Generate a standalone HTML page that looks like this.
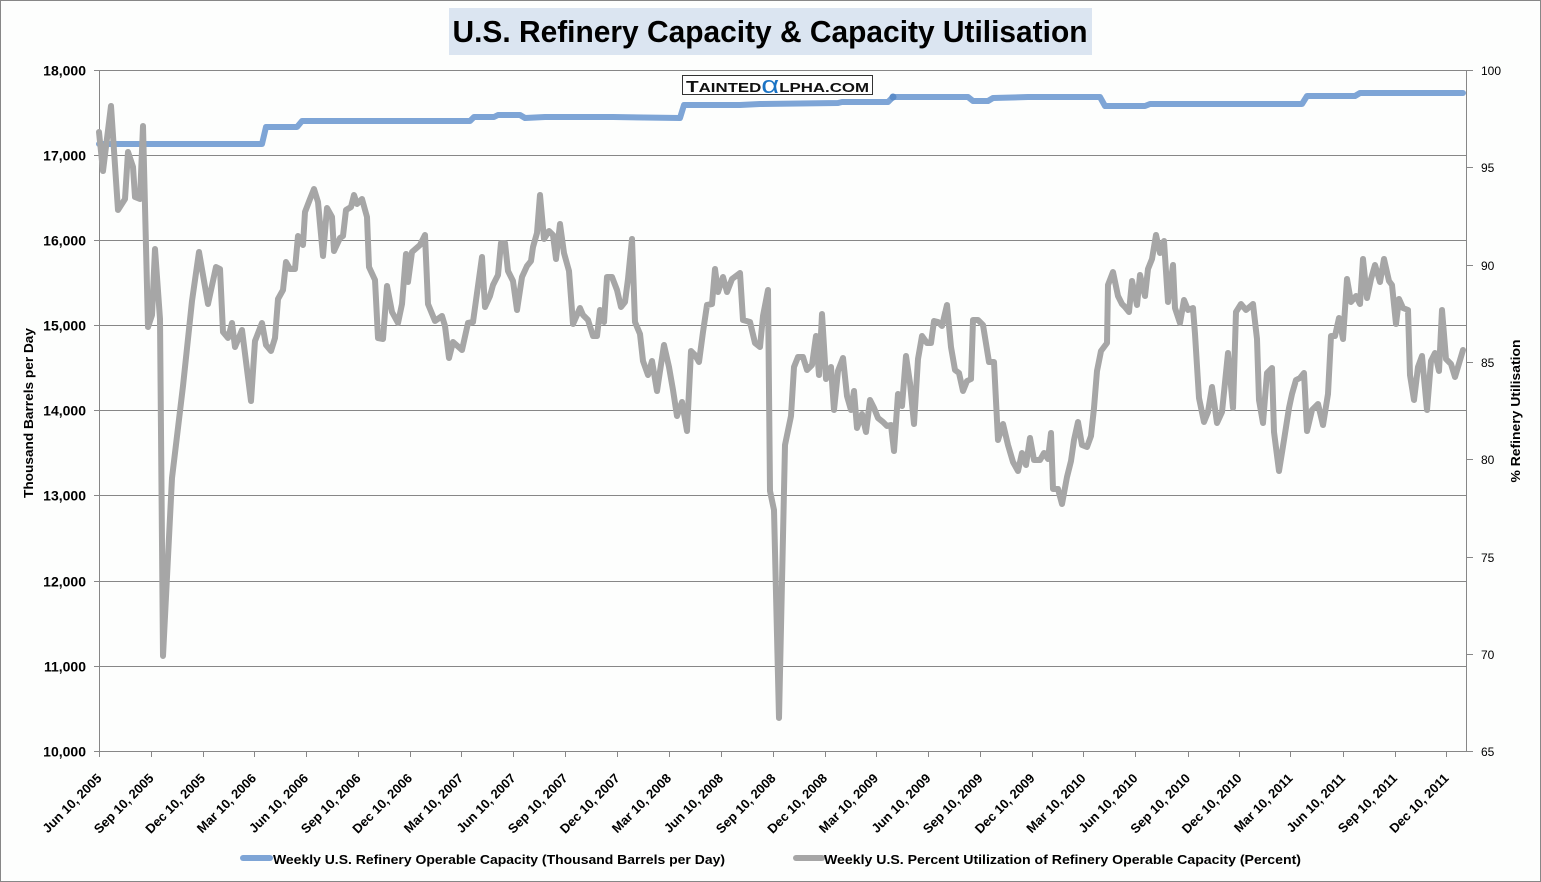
<!DOCTYPE html>
<html>
<head>
<meta charset="utf-8">
<style>
  html, body { margin:0; padding:0; background:#ffffff; }
  svg { display:block; }
  text { font-family: "Liberation Sans", Arial, sans-serif; }
</style>
</head>
<body>
<svg width="1541" height="882" viewBox="0 0 1541 882" xmlns="http://www.w3.org/2000/svg">
  <rect x="0" y="0" width="1541" height="882" fill="#fdfefd"/>
  <rect x="0.5" y="0.5" width="1540" height="881" fill="none" stroke="#878787" stroke-width="1"/>

  <!-- Title -->
  <rect x="449" y="8" width="643" height="47" fill="#dbe5f1"/>
  <text x="770" y="42" font-size="31" font-weight="bold" text-anchor="middle" fill="#000" textLength="635" lengthAdjust="spacingAndGlyphs">U.S. Refinery Capacity &amp; Capacity Utilisation</text>

  <!-- Gridlines -->
  <g stroke="#878787" stroke-width="1" fill="none">
    <line x1="94" y1="70.5" x2="1467" y2="70.5"/>
    <line x1="94" y1="155.5" x2="1467" y2="155.5"/>
    <line x1="94" y1="240.5" x2="1467" y2="240.5"/>
    <line x1="94" y1="325.5" x2="1467" y2="325.5"/>
    <line x1="94" y1="410.5" x2="1467" y2="410.5"/>
    <line x1="94" y1="495.5" x2="1467" y2="495.5"/>
    <line x1="94" y1="581.5" x2="1467" y2="581.5"/>
    <line x1="94" y1="666.5" x2="1467" y2="666.5"/>
    <line x1="94" y1="751.5" x2="1467" y2="751.5"/>
    <line x1="99.5" y1="70" x2="99.5" y2="752"/>
    <line x1="1466.5" y1="70" x2="1466.5" y2="752"/>
    <!-- right ticks -->
    <line x1="1466" y1="70.5" x2="1473" y2="70.5"/>
    <line x1="1466" y1="167.5" x2="1473" y2="167.5"/>
    <line x1="1466" y1="265.5" x2="1473" y2="265.5"/>
    <line x1="1466" y1="362.5" x2="1473" y2="362.5"/>
    <line x1="1466" y1="459.5" x2="1473" y2="459.5"/>
    <line x1="1466" y1="557.5" x2="1473" y2="557.5"/>
    <line x1="1466" y1="654.5" x2="1473" y2="654.5"/>
    <line x1="1466" y1="751.5" x2="1473" y2="751.5"/>
    <!-- bottom ticks -->
    <line x1="99.5" y1="751" x2="99.5" y2="757"/>
    <line x1="151.5" y1="751" x2="151.5" y2="757"/>
    <line x1="203.5" y1="751" x2="203.5" y2="757"/>
    <line x1="254.5" y1="751" x2="254.5" y2="757"/>
    <line x1="306.5" y1="751" x2="306.5" y2="757"/>
    <line x1="358.5" y1="751" x2="358.5" y2="757"/>
    <line x1="410.5" y1="751" x2="410.5" y2="757"/>
    <line x1="461.5" y1="751" x2="461.5" y2="757"/>
    <line x1="513.5" y1="751" x2="513.5" y2="757"/>
    <line x1="565.5" y1="751" x2="565.5" y2="757"/>
    <line x1="617.5" y1="751" x2="617.5" y2="757"/>
    <line x1="669.5" y1="751" x2="669.5" y2="757"/>
    <line x1="721.5" y1="751" x2="721.5" y2="757"/>
    <line x1="773.5" y1="751" x2="773.5" y2="757"/>
    <line x1="825.5" y1="751" x2="825.5" y2="757"/>
    <line x1="876.5" y1="751" x2="876.5" y2="757"/>
    <line x1="928.5" y1="751" x2="928.5" y2="757"/>
    <line x1="980.5" y1="751" x2="980.5" y2="757"/>
    <line x1="1032.5" y1="751" x2="1032.5" y2="757"/>
    <line x1="1083.5" y1="751" x2="1083.5" y2="757"/>
    <line x1="1135.5" y1="751" x2="1135.5" y2="757"/>
    <line x1="1188.5" y1="751" x2="1188.5" y2="757"/>
    <line x1="1239.5" y1="751" x2="1239.5" y2="757"/>
    <line x1="1290.5" y1="751" x2="1290.5" y2="757"/>
    <line x1="1343.5" y1="751" x2="1343.5" y2="757"/>
    <line x1="1395.5" y1="751" x2="1395.5" y2="757"/>
    <line x1="1446.5" y1="751" x2="1446.5" y2="757"/>
  </g>

  <!-- Left axis labels -->
  <g font-size="14" font-weight="bold" text-anchor="end" fill="#000">
    <text x="86" y="75.5">18,000</text>
    <text x="86" y="160.5">17,000</text>
    <text x="86" y="245.5">16,000</text>
    <text x="86" y="330.5">15,000</text>
    <text x="86" y="415.5">14,000</text>
    <text x="86" y="500.5">13,000</text>
    <text x="86" y="586.5">12,000</text>
    <text x="86" y="671.5">11,000</text>
    <text x="86" y="756.5">10,000</text>
  </g>

  <!-- Right axis labels -->
  <g font-size="12" fill="#000">
    <text x="1481" y="75">100</text>
    <text x="1481" y="172">95</text>
    <text x="1481" y="270">90</text>
    <text x="1481" y="367">85</text>
    <text x="1481" y="464">80</text>
    <text x="1481" y="562">75</text>
    <text x="1481" y="659">70</text>
    <text x="1481" y="756">65</text>
  </g>

  <!-- Axis titles -->
  <text transform="translate(33,413) rotate(-90)" font-size="13" font-weight="bold" text-anchor="middle" textLength="170" lengthAdjust="spacingAndGlyphs">Thousand Barrels per Day</text>
  <text transform="translate(1520,411) rotate(-90)" font-size="13" font-weight="bold" text-anchor="middle" textLength="143" lengthAdjust="spacingAndGlyphs">% Refinery Utilisation</text>

  <!-- X labels -->
  <g font-size="13" font-weight="bold" text-anchor="end" fill="#000">
    <text transform="translate(102.5,779) rotate(-45)">Jun 10, 2005</text>
    <text transform="translate(154.5,779) rotate(-45)">Sep 10, 2005</text>
    <text transform="translate(206,779) rotate(-45)">Dec 10, 2005</text>
    <text transform="translate(257,779) rotate(-45)">Mar 10, 2006</text>
    <text transform="translate(309,779) rotate(-45)">Jun 10, 2006</text>
    <text transform="translate(361.5,779) rotate(-45)">Sep 10, 2006</text>
    <text transform="translate(413,779) rotate(-45)">Dec 10, 2006</text>
    <text transform="translate(464,779) rotate(-45)">Mar 10, 2007</text>
    <text transform="translate(516.5,779) rotate(-45)">Jun 10, 2007</text>
    <text transform="translate(568.5,779) rotate(-45)">Sep 10, 2007</text>
    <text transform="translate(620.5,779) rotate(-45)">Dec 10, 2007</text>
    <text transform="translate(672,779) rotate(-45)">Mar 10, 2008</text>
    <text transform="translate(724,779) rotate(-45)">Jun 10, 2008</text>
    <text transform="translate(776.5,779) rotate(-45)">Sep 10, 2008</text>
    <text transform="translate(828,779) rotate(-45)">Dec 10, 2008</text>
    <text transform="translate(879,779) rotate(-45)">Mar 10, 2009</text>
    <text transform="translate(931.5,779) rotate(-45)">Jun 10, 2009</text>
    <text transform="translate(983.5,779) rotate(-45)">Sep 10, 2009</text>
    <text transform="translate(1035.5,779) rotate(-45)">Dec 10, 2009</text>
    <text transform="translate(1086.5,779) rotate(-45)">Mar 10, 2010</text>
    <text transform="translate(1138.5,779) rotate(-45)">Jun 10, 2010</text>
    <text transform="translate(1191,779) rotate(-45)">Sep 10, 2010</text>
    <text transform="translate(1242.5,779) rotate(-45)">Dec 10, 2010</text>
    <text transform="translate(1293.5,779) rotate(-45)">Mar 10, 2011</text>
    <text transform="translate(1346,779) rotate(-45)">Jun 10, 2011</text>
    <text transform="translate(1398,779) rotate(-45)">Sep 10, 2011</text>
    <text transform="translate(1449.5,779) rotate(-45)">Dec 10, 2011</text>
  </g>

  <!-- Blue capacity series -->
  <polyline fill="none" stroke="#7ea5d6" stroke-width="6" stroke-linejoin="round" stroke-linecap="round"
    points="99,144 262,144 266,127 297,127 302,121 470,121 474,117 494,117 498,115 520,115 525,118 545,117 613,117 680,118 684,105 740,105 760,104 838,103 842,102 888,102 893,97 968,97 973,101 988,101 993,98 1028,97 1100,97 1105,106 1145,106 1150,104 1302,104 1307,96 1355,96 1360,93 1463,93"/>
  <circle cx="893" cy="97" r="3.5" fill="#5b8cc8"/>

  <!-- Gray utilisation series -->
  <polyline fill="none" stroke="#a6a6a6" stroke-width="6" stroke-linejoin="round" stroke-linecap="round"
    points="99,132 103,171 111,106 118,210 125,199 128,152 133,167 135,197 140,199 143,126 148,327 152,315 155,249 160,319 163,656 172,478 183,386 192,301 199,252 208,304 216,267 220,269 223,332 228,338 232,323 235,347 242,330 251,401 255,341 262,323 266,345 271,351 275,338 278,299 283,290 286,262 290,269 295,269 298,236 303,245 305,212 310,199 314,189 318,202 323,256 327,208 332,217 334,251 340,238 343,236 346,210 351,207 354,195 357,204 362,199 367,217 369,267 375,280 378,338 383,339 387,286 392,312 398,323 402,304 406,254 408,282 412,252 420,245 425,235 428,304 435,321 442,316 445,326 449,358 453,342 462,350 468,323 473,322 482,257 485,307 490,296 493,285 498,275 501,243 505,243 508,271 513,281 517,310 522,277 527,266 531,261 533,247 537,233 540,195 544,239 549,231 553,235 556,259 560,224 564,253 569,271 573,324 580,308 583,315 588,320 593,336 597,336 600,310 604,322 607,277 612,277 617,290 621,307 625,302 628,279 632,239 635,322 640,334 643,361 648,375 652,361 657,391 660,371 664,345 669,367 673,390 677,416 682,402 687,431 691,351 695,355 699,362 703,332 707,305 712,304 715,269 718,292 723,277 727,292 732,279 740,273 743,320 750,322 755,343 760,347 763,316 768,290 770,491 774,510 779,718 785,445 791,416 794,367 798,357 803,357 807,370 812,365 816,336 819,375 822,314 826,379 831,367 834,410 838,371 843,358 847,396 851,410 854,391 857,428 862,414 866,432 870,400 874,408 878,418 883,422 887,426 891,425 894,451 898,394 902,406 906,356 910,383 914,424 918,359 922,336 927,343 931,343 934,321 938,322 942,326 947,305 951,347 955,370 959,373 963,391 967,381 971,379 973,320 978,320 983,325 989,362 994,362 998,440 1003,424 1008,445 1013,462 1018,471 1022,453 1026,465 1030,438 1034,460 1040,460 1044,453 1048,459 1051,433 1053,489 1058,489 1062,504 1067,477 1071,461 1074,440 1078,422 1082,445 1087,447 1091,436 1094,408 1097,371 1101,351 1107,343 1108,285 1113,272 1118,296 1122,304 1125,307 1129,312 1132,281 1137,305 1140,275 1145,296 1148,269 1152,259 1156,235 1160,253 1164,241 1168,302 1173,265 1175,308 1180,323 1184,300 1188,310 1193,308 1195,334 1199,398 1204,422 1208,412 1212,387 1217,423 1222,412 1228,353 1233,408 1236,312 1241,304 1246,310 1253,304 1257,339 1259,400 1263,423 1267,373 1272,368 1274,432 1279,471 1284,440 1289,408 1292,394 1296,380 1300,378 1304,373 1307,431 1312,410 1318,404 1323,425 1328,394 1331,336 1335,336 1339,318 1343,339 1347,279 1351,302 1356,296 1360,304 1363,259 1367,298 1371,279 1375,265 1380,282 1384,259 1389,281 1392,285 1396,324 1399,299 1403,308 1408,310 1410,375 1414,400 1418,367 1422,356 1427,410 1431,361 1435,353 1439,371 1442,310 1446,359 1451,364 1455,377 1463,350"/>

  <!-- Logo -->
  <rect x="682.5" y="75.5" width="190" height="19" fill="#ffffff" stroke="#333" stroke-width="1"/>
  <text x="686" y="92" fill="#111" textLength="183" lengthAdjust="spacingAndGlyphs"><tspan font-size="16" font-weight="bold">T</tspan><tspan font-size="13" font-weight="bold">AINTED</tspan><tspan font-size="24" fill="#1a73c4" dy="1">α</tspan><tspan font-size="13" font-weight="bold" dy="-1">LPHA.COM</tspan></text>

  <!-- Legend -->
  <line x1="243" y1="858" x2="270" y2="858" stroke="#7ea5d6" stroke-width="6" stroke-linecap="round"/>
  <text x="273" y="864" font-size="13" font-weight="bold" textLength="452" lengthAdjust="spacingAndGlyphs">Weekly U.S. Refinery Operable Capacity  (Thousand Barrels per Day)</text>
  <line x1="796" y1="858" x2="822" y2="858" stroke="#a6a6a6" stroke-width="6" stroke-linecap="round"/>
  <text x="824" y="864" font-size="13" font-weight="bold" textLength="477" lengthAdjust="spacingAndGlyphs">Weekly U.S. Percent Utilization of Refinery Operable Capacity  (Percent)</text>
</svg>
</body>
</html>
